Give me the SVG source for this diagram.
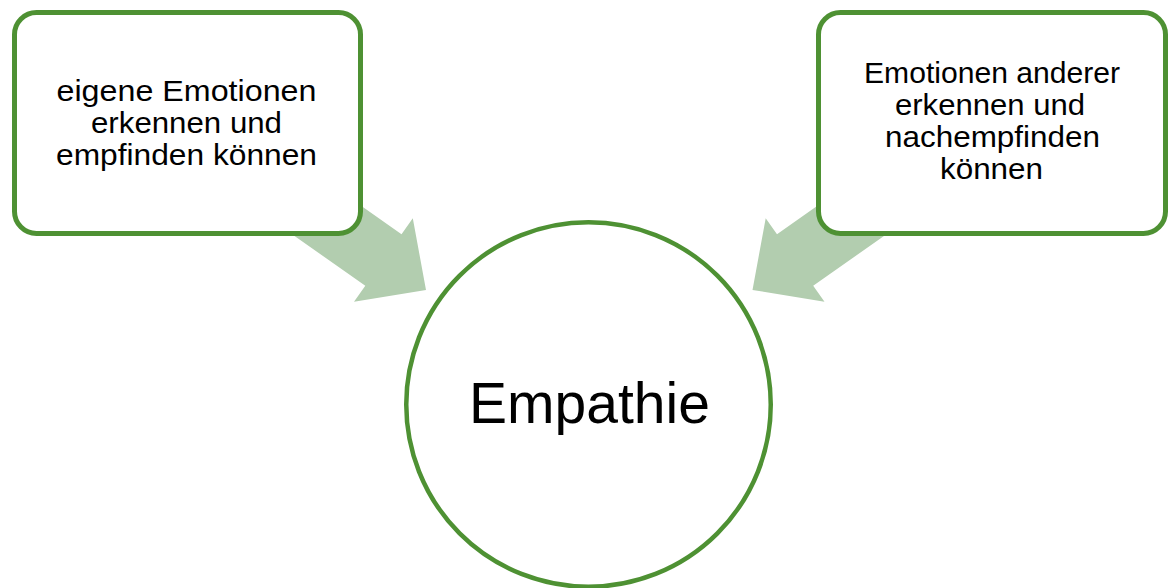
<svg xmlns="http://www.w3.org/2000/svg" width="1170" height="588" viewBox="0 0 1170 588">
  <style>
    .box { fill: #ffffff; stroke: #4E9133; stroke-width: 5; }
    .circ { fill: #ffffff; stroke: #4E9133; stroke-width: 4.5; }
    .arrow { fill: #B2CDAF; stroke: none; }
    .lbl { font-family: "Liberation Sans", Arial, sans-serif; font-size: 29.5px; fill: #000000; text-anchor: middle; }
    .big { font-family: "Liberation Sans", Arial, sans-serif; font-size: 57px; fill: #000000; text-anchor: middle; }
  </style>
  <rect width="1170" height="588" fill="#ffffff"/>
  <g id="connectors">
    <polygon class="arrow" points="278.8,147.8 401.5,234.2 412.8,218.3 426,290 354,301.7 365.3,285.8 242.6,199.4"/>
    <polygon class="arrow" points="899.7,147.8 777,234.2 765.7,218.3 752.5,290 824.5,301.7 813.2,285.8 935.9,199.4"/>
  </g>
  <g id="node-eigene">
    <rect class="box" x="14.5" y="12.5" width="346" height="221" rx="22" ry="22"/>
    <text class="lbl" x="186.5" y="101" textLength="260" lengthAdjust="spacingAndGlyphs">eigene Emotionen</text>
    <text class="lbl" x="186.5" y="133" textLength="191" lengthAdjust="spacingAndGlyphs">erkennen und</text>
    <text class="lbl" x="186.5" y="165" textLength="261" lengthAdjust="spacingAndGlyphs">empfinden können</text>
  </g>
  <g id="node-anderer">
    <rect class="box" x="818.5" y="12.5" width="347" height="221" rx="22" ry="22"/>
    <text class="lbl" x="992" y="83" textLength="256" lengthAdjust="spacingAndGlyphs">Emotionen anderer</text>
    <text class="lbl" x="990" y="115" textLength="190" lengthAdjust="spacingAndGlyphs">erkennen und</text>
    <text class="lbl" x="992.5" y="147" textLength="215" lengthAdjust="spacingAndGlyphs">nachempfinden</text>
    <text class="lbl" x="991.5" y="179" textLength="103" lengthAdjust="spacingAndGlyphs">können</text>
  </g>
  <g id="node-empathie">
    <circle class="circ" cx="588.5" cy="404.5" r="182.25"/>
    <text class="big" x="589.5" y="423">Empathie</text>
  </g>
</svg>
